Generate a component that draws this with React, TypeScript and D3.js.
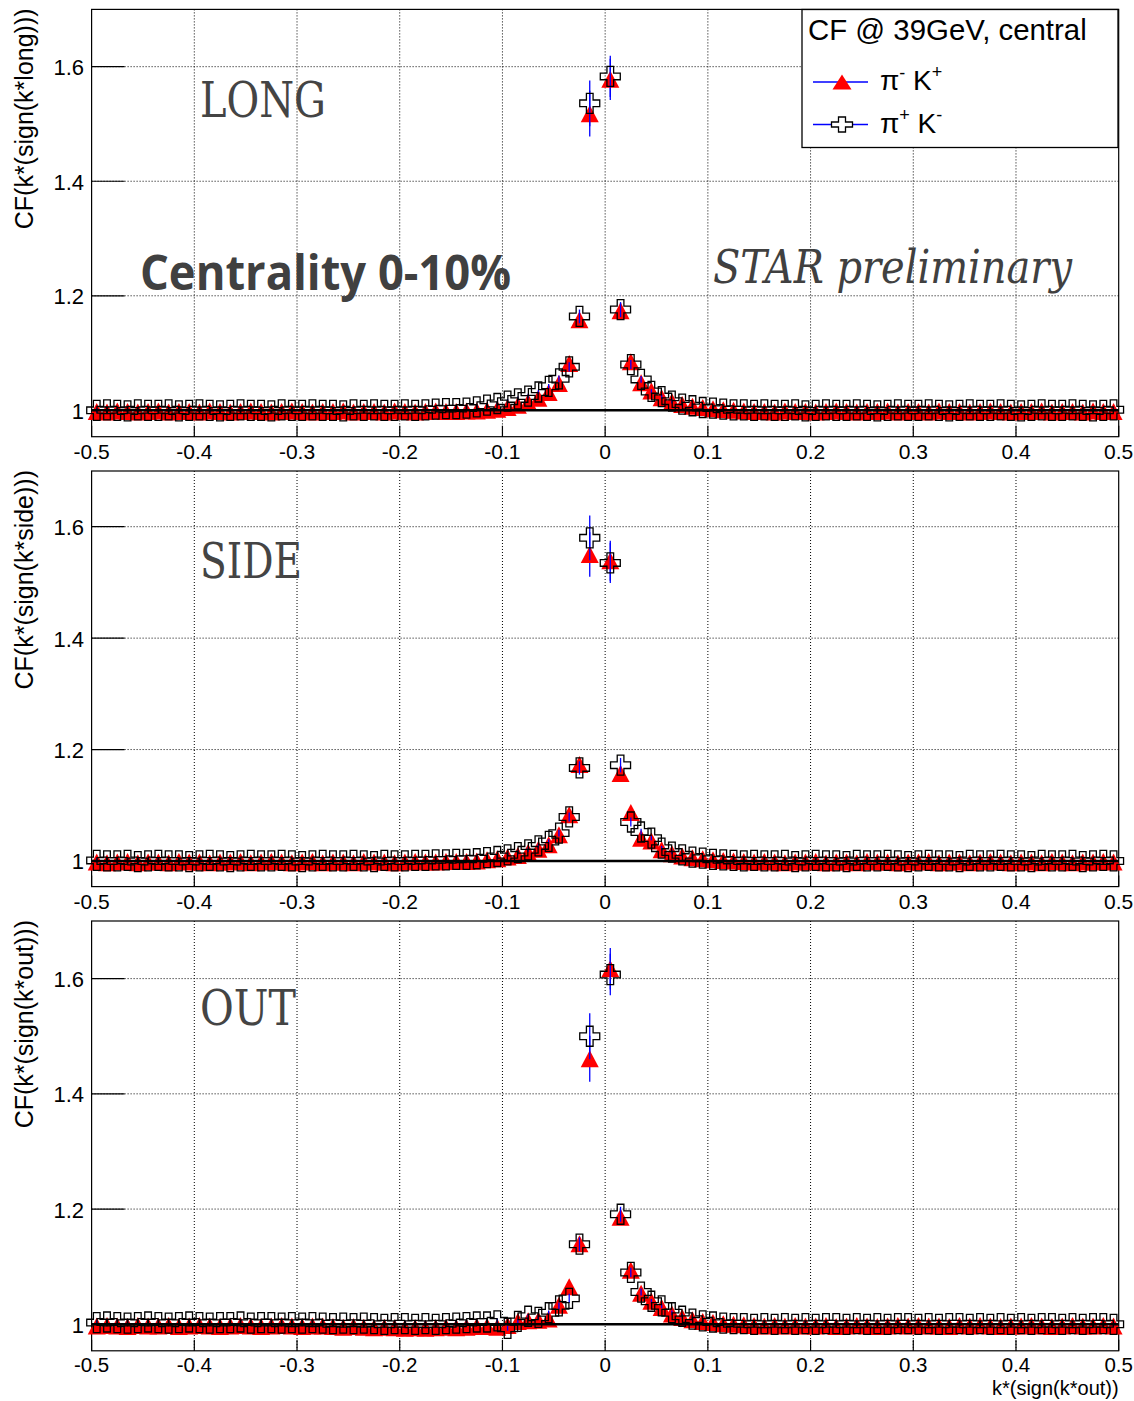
import React from 'react';
import * as d3 from 'd3';

// ---------------- data ----------------
// histogram binning in k* (100 bins of width 0.01 from -0.5 to 0.5)
const K_MIN = -0.5;
const K_BIN_WIDTH = 0.01;
const N_BINS = 100;
const K_CENTRES = d3.range(N_BINS).map((i) => K_MIN + K_BIN_WIDTH * (i + 0.5));

const X_TICKS = [-0.5, -0.4, -0.3, -0.2, -0.1, 0, 0.1, 0.2, 0.3, 0.4, 0.5];
const X_TICK_LABELS = ['-0.5', '-0.4', '-0.3', '-0.2', '-0.1', '0', '0.1', '0.2', '0.3', '0.4', '0.5'];
const Y_TICKS = [1, 1.2, 1.4, 1.6];
const Y_TICK_LABELS = ['1', '1.2', '1.4', '1.6'];
const PANEL_NAMES = ['LONG', 'SIDE', 'OUT'];
const Y_TITLES = ['CF(k*(sign(k*long)))', 'CF(k*(sign(k*side)))', 'CF(k*(sign(k*out)))'];
const X_TITLE = 'k*(sign(k*out))';
const LEGEND_TITLE = 'CF @ 39GeV, central';
const CENTRALITY_TEXT = 'Centrality 0-10%';
const STAR_TEXT = 'STAR preliminary';

// pi- K+ (red triangles)
const LONG_PIM_KP = [
  0.998, 0.997, 0.999, 0.998, 0.997, 0.998, 0.999, 0.997, 0.998, 0.998,
  0.997, 0.999, 0.998, 0.997, 0.998, 0.999, 0.998, 0.997, 0.998, 0.999,
  0.998, 0.997, 0.998, 0.998, 0.999, 0.997, 0.998, 0.998, 0.997, 0.999,
  0.998, 0.997, 0.998, 0.999, 0.998, 0.998, 0.999, 0.999, 1.000, 1.002,
  1.005, 1.009, 1.014, 1.021, 1.031, 1.047, 1.082, 1.158, 1.518, null,
  1.578, 1.174, 1.085, 1.048, 1.034, 1.022, 1.015, 1.010, 1.007, 1.005,
  1.003, 1.001, 1.000, 0.999, 0.998, 0.998, 0.997, 0.999, 0.998, 0.998,
  0.997, 0.998, 0.999, 0.998, 0.997, 0.998, 0.998, 0.999, 0.997, 0.998,
  0.998, 0.997, 0.999, 0.998, 0.998, 0.997, 0.998, 0.999, 0.998, 0.997,
  0.998, 0.998, 0.999, 0.997, 0.998, 0.998, 0.997, 0.999, 0.998, 0.998,
];
// pi+ K- (open crosses)
const LONG_PIP_KM = [
  1.000, 1.001, 1.000, 0.999, 1.001, 1.000, 1.000, 1.001, 0.999, 1.000,
  1.001, 1.000, 0.999, 1.000, 1.001, 1.000, 1.000, 0.999, 1.001, 1.000,
  1.000, 1.001, 1.000, 1.000, 0.999, 1.001, 1.000, 1.001, 1.000, 1.000,
  1.001, 1.000, 1.001, 1.002, 1.003, 1.003, 1.004, 1.006, 1.009, 1.012,
  1.016, 1.020, 1.025, 1.032, 1.042, 1.055, 1.076, 1.164, 1.536, null,
  1.583, 1.176, 1.080, 1.054, 1.033, 1.024, 1.016, 1.011, 1.008, 1.005,
  1.004, 1.002, 1.001, 1.001, 1.000, 1.001, 1.000, 1.000, 1.001, 0.999,
  1.000, 1.001, 1.000, 1.000, 1.001, 1.000, 0.999, 1.000, 1.001, 1.000,
  1.000, 1.001, 1.000, 0.999, 1.000, 1.001, 1.000, 1.000, 1.001, 1.000,
  0.999, 1.000, 1.001, 1.000, 1.000, 1.001, 1.000, 0.999, 1.000, 1.001,
];
const SIDE_PIM_KP = [
  0.998, 0.997, 0.998, 0.999, 0.997, 0.998, 0.998, 0.997, 0.999, 0.998,
  0.998, 0.997, 0.998, 0.998, 0.999, 0.997, 0.998, 0.999, 0.998, 0.997,
  0.998, 0.999, 0.997, 0.998, 0.998, 0.997, 0.999, 0.998, 0.998, 0.997,
  0.998, 0.999, 0.998, 0.998, 0.999, 0.999, 0.999, 1.000, 1.002, 1.004,
  1.007, 1.010, 1.015, 1.021, 1.029, 1.047, 1.083, 1.173, 1.550, null,
  1.539, 1.157, 1.087, 1.041, 1.036, 1.020, 1.013, 1.009, 1.006, 1.004,
  1.002, 1.001, 1.000, 0.999, 0.998, 0.999, 0.998, 0.997, 0.998, 0.998,
  0.999, 0.997, 0.998, 0.998, 0.997, 0.999, 0.998, 0.998, 0.997, 0.998,
  0.998, 0.999, 0.997, 0.998, 0.998, 0.997, 0.998, 0.999, 0.998, 0.997,
  0.998, 0.998, 0.997, 0.999, 0.998, 0.997, 0.998, 0.998, 0.999, 0.998,
];
const SIDE_PIP_KM = [
  1.001, 1.000, 1.000, 1.001, 0.999, 1.000, 1.001, 1.000, 1.000, 0.999,
  1.000, 1.001, 1.000, 0.999, 1.000, 1.001, 1.000, 1.000, 1.001, 1.000,
  0.999, 1.000, 1.001, 1.000, 1.000, 1.001, 1.000, 0.999, 1.001, 1.000,
  1.000, 1.001, 1.001, 1.002, 1.002, 1.003, 1.003, 1.004, 1.006, 1.008,
  1.011, 1.015, 1.020, 1.027, 1.035, 1.050, 1.079, 1.167, 1.580, null,
  1.535, 1.172, 1.070, 1.052, 1.041, 1.023, 1.016, 1.011, 1.007, 1.005,
  1.003, 1.002, 1.001, 1.000, 1.001, 1.000, 1.000, 1.001, 0.999, 1.000,
  1.001, 1.000, 1.000, 0.999, 1.001, 1.000, 1.000, 1.001, 1.000, 0.999,
  1.000, 1.001, 1.000, 1.000, 0.999, 1.001, 1.000, 1.000, 1.001, 1.000,
  1.000, 0.999, 1.001, 1.000, 1.000, 1.001, 0.999, 1.000, 1.001, 1.000,
];
const OUT_PIM_KP = [
  0.997, 0.998, 0.997, 0.996, 0.998, 0.997, 0.997, 0.998, 0.996, 0.997,
  0.998, 0.997, 0.996, 0.997, 0.998, 0.997, 0.996, 0.997, 0.998, 0.997,
  0.996, 0.997, 0.997, 0.996, 0.995, 0.996, 0.995, 0.994, 0.995, 0.994,
  0.993, 0.994, 0.993, 0.994, 0.995, 0.994, 0.995, 0.996, 0.996, 0.995,
  0.998, 1.005, 1.006, 1.007, 1.009, 1.033, 1.065, 1.140, 1.461, null,
  1.617, 1.186, 1.094, 1.054, 1.040, 1.029, 1.018, 1.012, 1.008, 1.005,
  1.003, 1.001, 1.000, 0.999, 0.998, 0.997, 0.998, 0.997, 0.998, 0.997,
  0.997, 0.998, 0.996, 0.997, 0.998, 0.997, 0.996, 0.997, 0.998, 0.997,
  0.998, 0.997, 0.997, 0.996, 0.998, 0.997, 0.998, 0.997, 0.996, 0.997,
  0.997, 0.998, 0.997, 0.996, 0.997, 0.998, 0.997, 0.997, 0.998, 0.997,
];
const OUT_PIP_KM = [
  1.003, 1.004, 1.003, 1.002, 1.003, 1.004, 1.003, 1.002, 1.003, 1.004,
  1.003, 1.002, 1.003, 1.003, 1.004, 1.002, 1.003, 1.003, 1.002, 1.003,
  1.002, 1.003, 1.002, 1.001, 1.002, 1.001, 1.002, 1.001, 1.000, 1.001,
  1.001, 1.000, 1.001, 1.000, 1.001, 1.002, 1.003, 1.004, 1.004, 1.006,
  0.993, 1.005, 1.014, 1.012, 1.020, 1.032, 1.045, 1.139, 1.500, null,
  1.607, 1.191, 1.090, 1.056, 1.040, 1.032, 1.020, 1.014, 1.009, 1.006,
  1.004, 1.002, 1.001, 1.001, 1.000, 1.001, 1.000, 1.001, 1.000, 1.001,
  1.000, 1.001, 1.001, 1.000, 1.001, 1.000, 1.001, 1.000, 1.001, 1.001,
  1.000, 1.001, 1.000, 1.001, 1.001, 1.000, 1.001, 1.000, 1.001, 1.000,
  1.001, 1.000, 1.001, 1.001, 1.000, 1.001, 1.000, 1.001, 1.001, 1.000,
];

// statistical errors (central bins larger, elsewhere small)
const ERR_DEFAULT = 0.004;
const ERR_CENTRAL_K = [-0.045, -0.035, -0.025, -0.015, 0.005, 0.015, 0.025, 0.035];
const ERR_CENTRAL = [0.006, 0.008, 0.012, 0.040, 0.036, 0.013, 0.008, 0.006];

// ---------------- layout ----------------
const W = 1134;
const H = 1401;
const X_LEFT = 91.6;
const X_RIGHT = 1118.7;
const Y_DOMAIN: [number, number] = [0.954, 1.7];
const PANEL_FRAMES = [
  { top: 9.4, bottom: 436.7 },
  { top: 471, bottom: 886.6 },
  { top: 921, bottom: 1350.8 },
];
const LABEL_BASELINES = [117, 578, 1025];
const LABEL_WIDTHS = [126, 102, 96];

const SANS = "'Liberation Sans', Arial, Helvetica, sans-serif";
const SERIF = "'DejaVu Serif', 'Liberation Serif', serif";

function errFor(k: number) {
  const i = ERR_CENTRAL_K.findIndex((c) => Math.abs(c - k) < 1e-6);
  return i >= 0 ? ERR_CENTRAL[i] : ERR_DEFAULT;
}

function triPath(cx: number, cy: number, w: number, h: number) {
  return `M${cx},${cy - h / 2}L${cx + w / 2},${cy + h / 2}L${cx - w / 2},${cy + h / 2}Z`;
}
function crossPath(cx: number, cy: number, sx: number, sy: number) {
  const ax = sx / 3;
  const ay = sy / 3;
  const p = [
    [-ax, -sy], [ax, -sy], [ax, -ay], [sx, -ay], [sx, ay], [ax, ay],
    [ax, sy], [-ax, sy], [-ax, ay], [-sx, ay], [-sx, -ay], [-ax, -ay],
  ];
  return 'M' + p.map(([a, b]) => `${cx + a},${cy + b}`).join('L') + 'Z';
}

const SERIES = [
  [LONG_PIM_KP, LONG_PIP_KM],
  [SIDE_PIM_KP, SIDE_PIP_KM],
  [OUT_PIM_KP, OUT_PIP_KM],
];

function Panel({ idx }: { idx: number }) {
  const { top, bottom } = PANEL_FRAMES[idx];
  const x = d3.scaleLinear().domain([-0.5, 0.5]).range([X_LEFT, X_RIGHT]);
  const y = d3.scaleLinear().domain(Y_DOMAIN).range([bottom, top]);
  const [tri, cross] = SERIES[idx];
  const triPts = K_CENTRES.map((k, i) => ({ k, v: tri[i] })).filter((d) => d.v != null) as { k: number; v: number }[];
  const crossPts = K_CENTRES.map((k, i) => ({ k, v: cross[i] })).filter((d) => d.v != null) as { k: number; v: number }[];
  const isLast = idx === 2;

  return (
    <g>
      {/* grid */}
      {X_TICKS.slice(1, -1).map((t) => (
        <line key={'gx' + t} x1={x(t)} x2={x(t)} y1={top} y2={bottom} stroke="#000" strokeWidth={1} strokeDasharray="1 2" />
      ))}
      {Y_TICKS.map((t) => (
        <line key={'gy' + t} x1={X_LEFT} x2={X_RIGHT} y1={y(t)} y2={y(t)} stroke="#000" strokeWidth={1} strokeDasharray="1 2" />
      ))}
      {/* frame */}
      <rect x={X_LEFT} y={top} width={X_RIGHT - X_LEFT} height={bottom - top} fill="none" stroke="#000" strokeWidth={1.2} />
      {/* ticks */}
      {X_TICKS.map((t) => (
        <line key={'tx' + t} x1={x(t)} x2={x(t)} y1={bottom} y2={bottom - 11} stroke="#000" strokeWidth={1.2} />
      ))}
      {Y_TICKS.map((t) => (
        <line key={'ty' + t} x1={X_LEFT} x2={X_LEFT + 33} y1={y(t)} y2={y(t)} stroke="#000" strokeWidth={1.2} />
      ))}
      {/* tick labels */}
      {X_TICKS.map((t, i) => (
        <text key={'lx' + t} x={x(t)} y={bottom + (isLast ? 21.5 : 22)} textAnchor="middle" fontSize={isLast ? 20.5 : 21} fontFamily={SANS} fill="#000">
          {X_TICK_LABELS[i]}
        </text>
      ))}
      {Y_TICKS.map((t, i) => (
        <text key={'ly' + t} x={84} y={y(t) + 8.5} textAnchor="end" fontSize={22} fontFamily={SANS} fill="#000">
          {Y_TICK_LABELS[i]}
        </text>
      ))}
      {/* y title */}
      <text transform={`translate(33,${top - 1}) rotate(-90)`} textAnchor="end" fontSize={25} fontFamily={SANS} fill="#000">
        {Y_TITLES[idx]}
      </text>
      {/* triangles: errors then markers */}
      {triPts.map((d) => (
        <line key={'et' + d.k} x1={x(d.k)} x2={x(d.k)} y1={y(d.v - errFor(d.k))} y2={y(d.v + errFor(d.k))} stroke="#0000ff" strokeWidth={1.3} />
      ))}
      {triPts.map((d) => (
        <path key={'mt' + d.k} d={triPath(x(d.k), y(d.v), 18, 17)} fill="#ff0000" />
      ))}
      {/* crosses */}
      {crossPts.map((d) => (
        <line key={'ec' + d.k} x1={x(d.k)} x2={x(d.k)} y1={y(d.v - errFor(d.k))} y2={y(d.v + errFor(d.k))} stroke="#0000ff" strokeWidth={1.3} />
      ))}
      {crossPts.map((d) => (
        <path key={'mc' + d.k} d={crossPath(x(d.k), y(d.v), 10, 10)} fill="none" stroke="#000" strokeWidth={1.3} />
      ))}
      {/* reference line at CF = 1 */}
      <line x1={X_LEFT} x2={X_RIGHT} y1={y(1)} y2={y(1)} stroke="#000" strokeWidth={2.5} />
      {/* panel label */}
      <text x={200} y={LABEL_BASELINES[idx]} fontSize={48} fontFamily={SERIF} fill="#444"
        textLength={LABEL_WIDTHS[idx]} lengthAdjust="spacingAndGlyphs">
        {PANEL_NAMES[idx]}
      </text>
    </g>
  );
}

export default function App() {
  const lx1 = 813;
  const lx2 = 868;
  const lmx = 842;
  const ly1 = 82;
  const ly2 = 124.5;
  return (
    <svg width={W} height={H} viewBox={`0 0 ${W} ${H}`}
      style={{ position: 'absolute', left: 0, top: 0, background: '#fff' }}>
      <rect x={0} y={0} width={W} height={H} fill="#fff" />
      {[0, 1, 2].map((i) => <Panel key={i} idx={i} />)}

      {/* x-axis title (bottom panel only) */}
      <text x={X_RIGHT} y={1395} textAnchor="end" fontSize={20} fontFamily={SANS} fill="#000">{X_TITLE}</text>

      {/* legend */}
      <rect x={802} y={9.5} width={316} height={138} fill="#fff" stroke="#000" strokeWidth={1.3} />
      <text x={808} y={40} fontSize={29.4} fontFamily={SANS} fill="#000">{LEGEND_TITLE}</text>
      <line x1={lx1} x2={lx2} y1={ly1} y2={ly1} stroke="#0000ff" strokeWidth={1.3} />
      <path d={triPath(lmx, ly1, 19, 15)} fill="#ff0000" />
      <text x={880} y={90} fontSize={28} fontFamily={SANS} fill="#000">
        π<tspan fontSize={18} dy={-11}>-</tspan><tspan dy={11}> K</tspan><tspan fontSize={18} dy={-12}>+</tspan>
      </text>
      <line x1={lx1} x2={lx2} y1={ly2} y2={ly2} stroke="#0000ff" strokeWidth={1.3} />
      <path d={crossPath(lmx, ly2, 10.5, 7.5)} fill="#fff" stroke="#000" strokeWidth={1.3} />
      <text x={880} y={133} fontSize={28} fontFamily={SANS} fill="#000">
        π<tspan fontSize={18} dy={-12}>+</tspan><tspan dy={12}> K</tspan><tspan fontSize={18} dy={-12}>-</tspan>
      </text>

      {/* annotations */}
      <text x={140} y={290} fontSize={48} fontWeight={700} fontFamily="'Open Sans', 'Noto Sans', sans-serif" fill="#404040"
        textLength={371} lengthAdjust="spacingAndGlyphs">{CENTRALITY_TEXT}</text>
      <text x={713} y={283} fontSize={46} fontStyle="italic" fontFamily={SERIF} fill="#404040"
        textLength={359} lengthAdjust="spacingAndGlyphs">{STAR_TEXT}</text>
    </svg>
  );
}
